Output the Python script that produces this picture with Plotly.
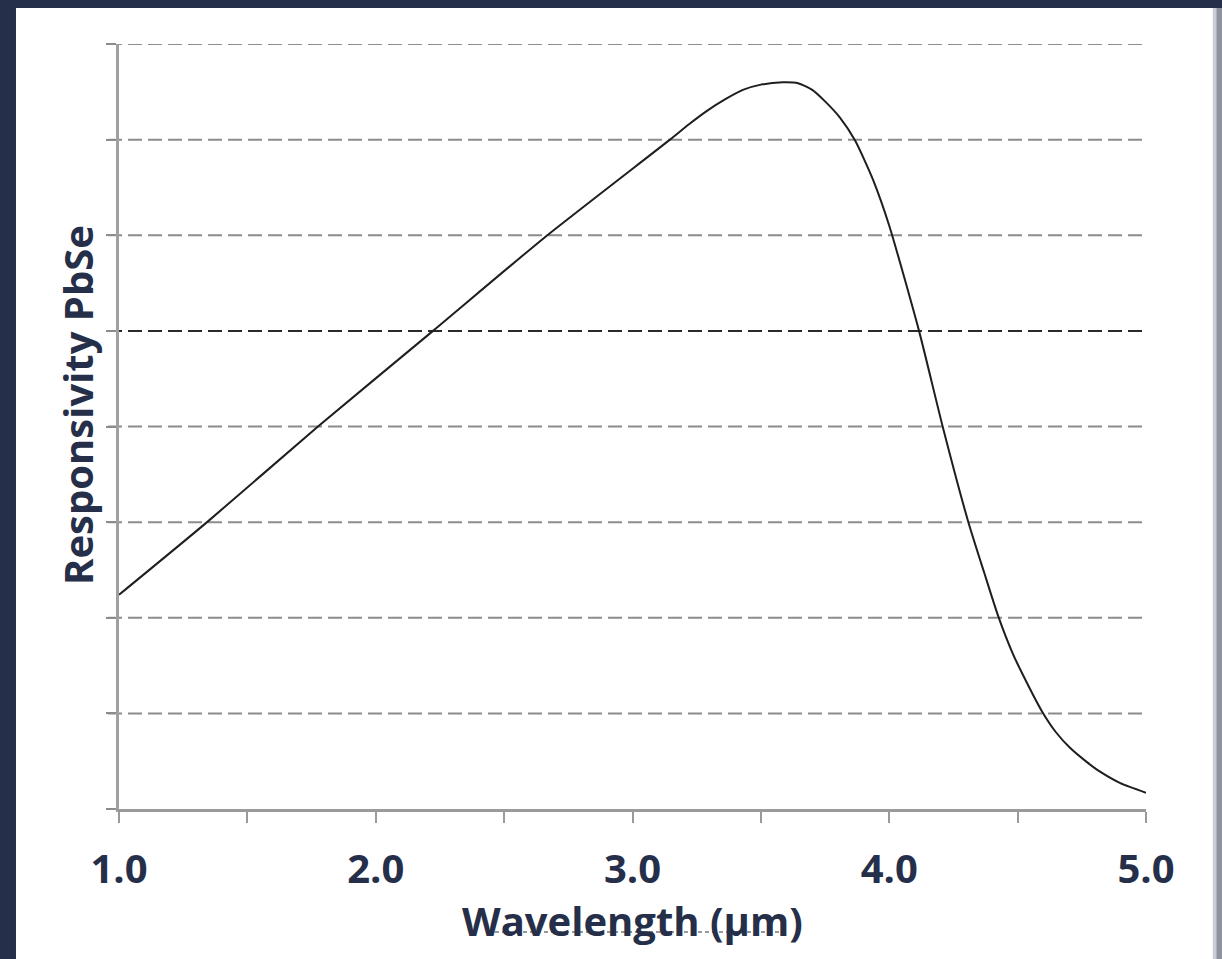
import plotly.graph_objects as go

# ---- data ----
wavelength = [1.0, 1.343, 1.775, 2.223, 2.659, 3.146, 3.22, 3.29, 3.36, 3.43, 3.50, 3.585,
              3.645, 3.70, 3.75, 3.808, 3.867, 3.937, 4.0, 4.116, 4.209, 4.307, 4.37,
              4.424, 4.482, 4.536, 4.595, 4.65, 4.704, 4.77, 4.821, 4.9, 5.0]
responsivity = [2.24, 3.0, 4.0, 5.0, 5.98, 7.0, 7.16, 7.30, 7.42, 7.52, 7.575, 7.60,
                7.59, 7.52, 7.40, 7.23, 6.99, 6.58, 6.10, 5.0, 3.99, 3.01, 2.47,
                2.02, 1.62, 1.32, 1.02, 0.80, 0.64, 0.49, 0.39, 0.27, 0.17]
x_tick_vals = [1, 2, 3, 4, 5]
x_tick_text = ["1.0", "2.0", "3.0", "4.0", "5.0"]
grid_levels = [1, 2, 3, 4, 5, 6, 7, 8]
highlight_level = 5

NAVY = "#262f49"
FONT = "Open Sans"

fig = go.Figure()

fig.add_trace(go.Scatter(
    x=wavelength, y=responsivity, mode="lines",
    line=dict(color="#1e1e1e", width=2, shape="spline", smoothing=0.6),
    hoverinfo="skip", showlegend=False,
))

shapes = []
# white card over navy background
shapes.append(dict(type="rect", xref="paper", yref="paper",
                   x0=-0.1003, x1=1.0652, y0=-0.4, y1=1.047,
                   fillcolor="white", line=dict(width=0), layer="below"))
# right edge grey strip
shapes.append(dict(type="rect", xref="paper", yref="paper",
                   x0=1.0652, x1=1.069, y0=-0.4, y1=1.047,
                   fillcolor="#c9ccd3", line=dict(width=0), layer="below"))
shapes.append(dict(type="rect", xref="paper", yref="paper",
                   x0=1.069, x1=1.09, y0=-0.4, y1=1.047,
                   fillcolor="#8d929e", line=dict(width=0), layer="below"))
# dashed grid lines
for g in grid_levels:
    dark = (g == highlight_level)
    shapes.append(dict(type="line", xref="paper", yref="y",
                       x0=-0.0107, x1=1.0, y0=g, y1=g,
                       line=dict(color="#2a2a2a" if dark else "#8c8c8c",
                                 width=2, dash="14px,6px"),
                       layer="below"))
# stray dashed line under the axis title
shapes.append(dict(type="line", xref="paper", yref="paper",
                   x0=0.3593, x1=0.6436, y0=-0.1608, y1=-0.1608,
                   line=dict(color="#333333", width=1, dash="4px,3px"), layer="above"))

fig.update_layout(
    width=1222, height=959,
    margin=dict(l=119, r=76, t=44, b=150),
    paper_bgcolor=NAVY, plot_bgcolor="white",
    shapes=shapes,
    xaxis=dict(
        range=[1.0, 5.0], tickvals=x_tick_vals, ticktext=x_tick_text,
        showgrid=False, zeroline=False,
        showline=True, linecolor="#9a9a9a", linewidth=3,
        ticks="outside", ticklen=11, tickwidth=2, tickcolor="#9a9a9a",
        minor=dict(dtick=0.5, tick0=1.0, ticks="outside", ticklen=11,
                   tickwidth=2, tickcolor="#9a9a9a", showgrid=False),
        tickfont=dict(family=FONT, size=40, color=NAVY, weight="bold"),
        ticklabelstandoff=12,
    ),
    yaxis=dict(
        range=[0, 8], dtick=1, showticklabels=False,
        showgrid=False, zeroline=False,
        showline=True, linecolor="#a0a0a0", linewidth=3,
        ticks="outside", ticklen=10, tickwidth=2, tickcolor="#8c8c8c",
    ),
    annotations=[
        dict(text="<b>Wavelength (µm)</b>", xref="paper", yref="paper",
             x=0.5, y=-0.146, xanchor="center", yanchor="middle", showarrow=False,
             font=dict(family=FONT, size=40, color=NAVY)),
        dict(text="<b>Responsivity PbSe</b>", xref="paper", yref="paper",
             x=-0.041, y=0.528, xanchor="center", yanchor="middle", showarrow=False,
             textangle=-90, font=dict(family=FONT, size=40, color=NAVY)),
    ],
)

fig.write_html(
    "out.html",
    config={"displayModeBar": False},
    post_script="document.body.style.margin='0';document.body.style.background='#262f49';",
)
